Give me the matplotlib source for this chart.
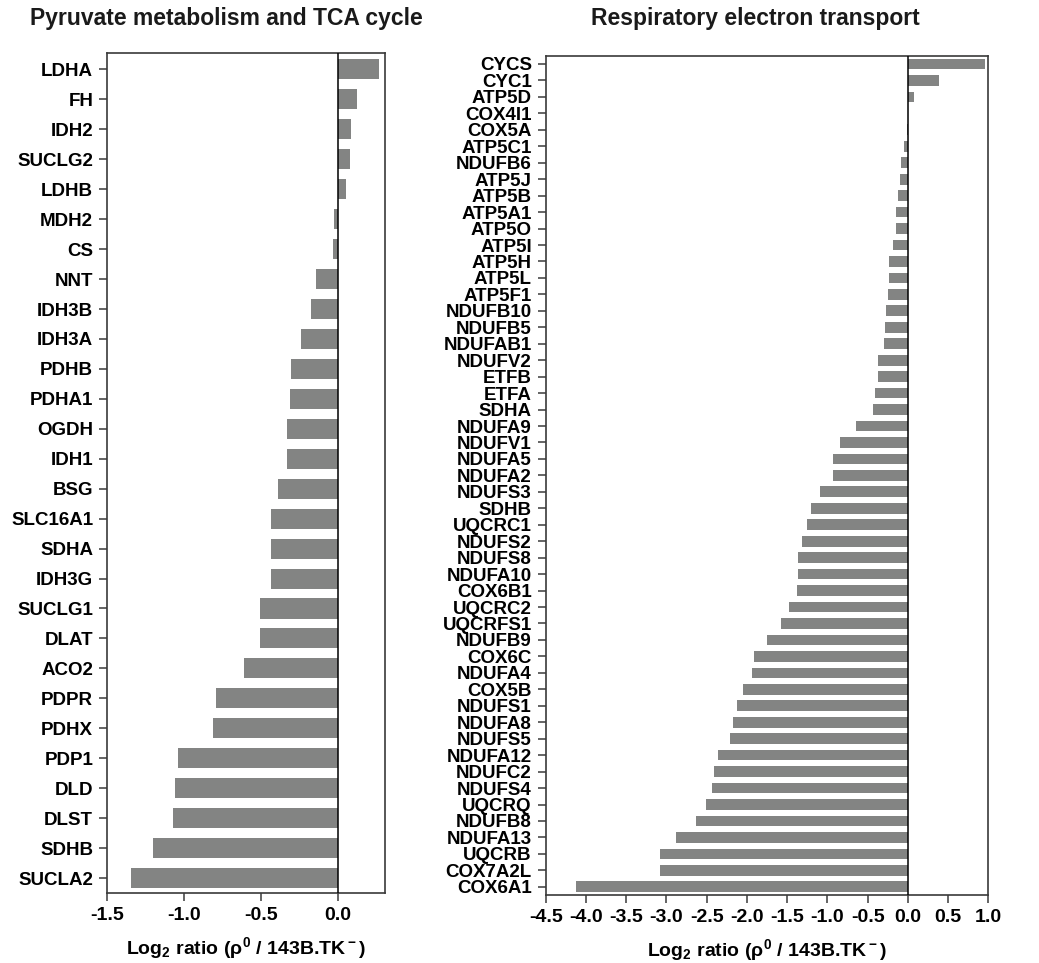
import matplotlib
matplotlib.use("Agg")
import matplotlib.pyplot as plt
from matplotlib.ticker import FormatStrFormatter

plt.rcParams['font.family'] = ['Liberation Sans', 'DejaVu Sans']
plt.rcParams['font.weight'] = 'bold'
plt.rcParams['mathtext.fontset'] = 'custom'
plt.rcParams['mathtext.rm'] = 'Liberation Sans:bold'
plt.rcParams['mathtext.it'] = 'Liberation Sans:bold'
plt.rcParams['mathtext.bf'] = 'Liberation Sans:bold'

# Pyruvate metabolism and TCA cycle
tca_genes = ["LDHA", "FH", "IDH2", "SUCLG2", "LDHB", "MDH2", "CS", "NNT", "IDH3B",
             "IDH3A", "PDHB", "PDHA1", "OGDH", "IDH1", "BSG", "SLC16A1", "SDHA",
             "IDH3G", "SUCLG1", "DLAT", "ACO2", "PDPR", "PDHX", "PDP1", "DLD",
             "DLST", "SDHB", "SUCLA2"]
tca_vals = [0.264, 0.123, 0.087, 0.078, 0.052, -0.026, -0.034, -0.143, -0.177,
            -0.242, -0.303, -0.312, -0.333, -0.333, -0.392, -0.433, -0.433,
            -0.433, -0.506, -0.506, -0.612, -0.79, -0.81, -1.04, -1.06,
            -1.073, -1.203, -1.342]

# Respiratory electron transport
ret_genes = ["CYCS", "CYC1", "ATP5D", "COX4I1", "COX5A", "ATP5C1", "NDUFB6", "ATP5J",
             "ATP5B", "ATP5A1", "ATP5O", "ATP5I", "ATP5H", "ATP5L", "ATP5F1",
             "NDUFB10", "NDUFB5", "NDUFAB1", "NDUFV2", "ETFB", "ETFA", "SDHA",
             "NDUFA9", "NDUFV1", "NDUFA5", "NDUFA2", "NDUFS3", "SDHB", "UQCRC1",
             "NDUFS2", "NDUFS8", "NDUFA10", "COX6B1", "UQCRC2", "UQCRFS1", "NDUFB9",
             "COX6C", "NDUFA4", "COX5B", "NDUFS1", "NDUFA8", "NDUFS5", "NDUFA12",
             "NDUFC2", "NDUFS4", "UQCRQ", "NDUFB8", "NDUFA13", "UQCRB", "COX7A2L",
             "COX6A1"]
ret_vals = [0.964, 0.385, 0.074, 0.003, -0.008, -0.05, -0.087, -0.095,
            -0.128, -0.145, -0.153, -0.182, -0.232, -0.24, -0.248,
            -0.265, -0.281, -0.302, -0.372, -0.372, -0.405, -0.434,
            -0.649, -0.84, -0.93, -0.93, -1.088, -1.2, -1.249,
            -1.311, -1.361, -1.369, -1.377, -1.48, -1.58, -1.754,
            -1.911, -1.931, -2.047, -2.117, -2.175, -2.204, -2.353,
            -2.403, -2.432, -2.514, -2.634, -2.878, -3.081, -3.081,
            -4.123]

bar_col = "#838483"
spine_col = "#3a3a3a"
xlab = r'Log$_2$ ratio ($\rho^0$ / 143B.TK$^-$)'

fig = plt.figure(figsize=(10.39, 9.63), dpi=100)
ax1 = fig.add_axes([0.103, 0.0727, 0.2676, 0.8723])
ax2 = fig.add_axes([0.5252, 0.0706, 0.426, 0.8715])


def style(ax):
    for s in ax.spines.values():
        s.set_color(spine_col)
        s.set_linewidth(1.2)
    ax.tick_params(axis='both', direction='out', length=6, width=1.1,
                   color=spine_col, labelsize=13.5, pad=4)
    ax.tick_params(axis='x', labelsize=14)
    ax.xaxis.set_major_formatter(FormatStrFormatter('%.1f'))
    for lab in ax.get_xticklabels() + ax.get_yticklabels():
        lab.set_fontweight('bold')
    ax.axvline(0, color='black', lw=1.1, zorder=3)


# left panel
y1 = range(len(tca_genes))
ax1.barh(y1, tca_vals, height=0.67, color=bar_col, zorder=2)
ax1.set_yticks(list(y1))
ax1.set_yticklabels(tca_genes)
ax1.set_ylim(len(tca_genes) - 0.5, -0.55)
ax1.set_xlim(-1.5, 0.305)
ax1.set_xticks([-1.5, -1.0, -0.5, 0.0])
style(ax1)
ax1.set_xlabel(xlab, fontsize=14, fontweight='bold', labelpad=8)

# right panel
y2 = range(len(ret_genes))
ax2.barh(y2, ret_vals, height=0.65, color=bar_col, zorder=2)
ax2.set_yticks(list(y2))
ax2.set_yticklabels(ret_genes)
ax2.set_ylim(len(ret_genes) - 0.5, -0.5)
ax2.set_xlim(-4.5, 1.0)
ax2.set_xticks([-4.5, -4.0, -3.5, -3.0, -2.5, -2.0, -1.5, -1.0, -0.5, 0.0, 0.5, 1.0])
style(ax2)
ax2.set_xlabel(xlab, fontsize=14, fontweight='bold', labelpad=8)

fig.text(30 / 1039, 1 - 18 / 963, "Pyruvate metabolism and TCA cycle",
         fontsize=16.5, fontweight='bold', ha='left', va='center', color='#1a1a1a')
fig.text(591 / 1039, 1 - 18 / 963, "Respiratory electron transport",
         fontsize=16.5, fontweight='bold', ha='left', va='center', color='#1a1a1a')

fig.savefig("out.png", dpi=100)
